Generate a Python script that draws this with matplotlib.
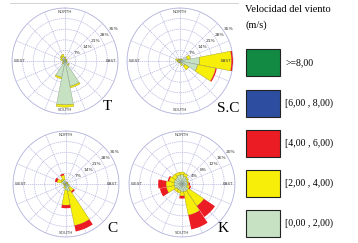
import numpy as np
import matplotlib
matplotlib.use('Agg')
import matplotlib.pyplot as plt
from matplotlib.patches import Rectangle
from matplotlib.lines import Line2D

# 16 directions, clockwise from north
dirs = ['N', 'NNE', 'NE', 'ENE', 'E', 'ESE', 'SE', 'SSE',
        'S', 'SSW', 'SW', 'WSW', 'W', 'WNW', 'NW', 'NNW']

# frequencies (%) per speed class
T_g = [2, 1, 1, 1, 1, 1, 3, 17, 29, 11, 2, 1, 1, 2, 3, 3]
T_y = [0.5, 0.3, 0.3, 0.3, 0.3, 0.3, 0.5, 1, 1.5, 1, 0.3, 0.3, 0.3, 1, 1, 1.5]
T_r = [0] * 16

SC_g = [1, 1, 1.5, 5, 13, 12, 4, 2, 1, 1, 1, 1, 1.5, 2, 1.5, 1]
SC_y = [0.3, 0.3, 0.3, 2, 21, 12, 3, 1, 0.3, 0.3, 0.3, 0.3, 0.5, 1, 0.3, 0.3]
SC_r = [0, 0, 0, 0, 1, 0.8, 0, 0, 0, 0, 0, 0, 0, 0, 0, 0]

C_g = [1, 1, 1, 1, 1, 2, 3, 5, 4, 2, 1, 1, 1.5, 3, 3, 3]
C_y = [0.3, 0.3, 0.3, 0.3, 0.3, 0.3, 3, 23, 10, 1, 0.3, 0.3, 0.3, 3, 1, 3]
C_r = [0, 0, 0, 0, 0, 0, 1, 4, 2, 0, 0, 0, 0, 1.5, 0, 1]

K_g = [3.5, 3, 2.5, 2, 2, 2, 3, 3, 3, 2.5, 2.5, 3, 3, 3, 3, 3.5]
K_y = [1, 1, 0.5, 0.5, 0.5, 1, 7, 9, 1.5, 1, 1, 3, 3, 2, 1.5, 1]
K_r = [0, 0, 0, 0, 0.5, 0.5, 5, 5.5, 1, 0, 0, 2.5, 3, 0.5, 0, 0]

panels = [('T', T_g, T_y, T_r, [7, 14, 21, 28, 35]),
          ('S.C', SC_g, SC_y, SC_r, [7, 14, 21, 28, 35]),
          ('C', C_g, C_y, C_r, [7, 14, 21, 28, 35]),
          ('K', K_g, K_y, K_r, [4, 8, 12, 16, 20])]

classes = ['>=8,00', '[6,00 , 8,00)', '[4,00 , 6,00)', '[2,00 , 4,00)', '[0,00 , 2,00)']
colors = ['#128a44', '#2d4ea0', '#ec1c24', '#f7ef0a', '#c6e2c3']

serif = 'Liberation Serif'

fig = plt.figure(figsize=(3.58, 2.43), dpi=100)

centers = [(65, 61), (180, 61), (66, 184), (182, 184)]
letter_pos = [(107, 107), (228, 108), (112, 228), (223, 228)]
rx, ry = 53, 56

theta = np.deg2rad(np.arange(16) * 22.5)
width = np.deg2rad(22)

for (name, g, y, r, rings), (cx, cy), (lx, ly) in zip(panels, centers, letter_pos):
    ax = fig.add_axes([(cx - rx) / 358, 1 - (cy + ry) / 243, 2 * rx / 358, 2 * ry / 243],
                      projection='polar')
    ax.set_theta_zero_location('N')
    ax.set_theta_direction(-1)
    g = np.array(g); y = np.array(y); r = np.array(r)
    ax.bar(theta, g, width=width, color=colors[4], edgecolor='#8a9a8a', linewidth=0.3, zorder=3)
    ax.bar(theta, y, bottom=g, width=width, color=colors[3], edgecolor='#a09a20', linewidth=0.3, zorder=3)
    ax.bar(theta, r, bottom=g + y, width=width, color=colors[2], linewidth=0, zorder=3)
    rmax = rings[-1]
    ax.set_ylim(0, rmax)
    ax.set_yticks(rings)
    ax.set_yticklabels(['%d%%' % v for v in rings], fontsize=3.2, color='#333333')
    ax.set_rlabel_position(55)
    ax.set_xticks(theta)
    ax.set_xticklabels([])
    ax.grid(True, color='#b8b8e0', linestyle=(0, (2, 1)), linewidth=0.5)
    ax.spines['polar'].set_color('#b8b8e0')
    ax.spines['polar'].set_linewidth(0.6)
    kw = dict(fontsize=3, color='#444444', zorder=5)
    ax.text(0, rmax * 0.97, 'NORTH', ha='center', va='top', **kw)
    ax.text(np.pi, rmax * 0.97, 'SOUTH', ha='center', va='bottom', **kw)
    ax.text(np.pi / 2, rmax * 0.97, 'EAST', ha='right', va='center', **kw)
    ax.text(3 * np.pi / 2, rmax * 0.97, 'WEST', ha='left', va='center', **kw)
    fig.text(lx / 358, 1 - ly / 243, name, family=serif, fontsize=11, ha='center', va='center')

# light frame line on top
fig.add_artist(Line2D([10 / 358, 238 / 358], [1 - 3 / 243, 1 - 3 / 243],
                      color='#cccccc', linewidth=0.6, transform=fig.transFigure))

# legend
fig.text(245 / 358, 1 - 10 / 243, 'Velocidad del viento', family=serif, fontsize=7.5,
         ha='left', va='center')
fig.text(245 / 358, 1 - 25 / 243, '(m/s)', family=serif, fontsize=7.5, ha='left', va='center')
box_top = [49, 90, 130, 170, 210]
for top, col, txt in zip(box_top, colors, classes):
    fig.add_artist(Rectangle((246 / 358, 1 - (top + 27) / 243), 34 / 358, 27 / 243,
                             facecolor=col, edgecolor='#222222', linewidth=0.8,
                             transform=fig.transFigure))
    fig.text(285 / 358, 1 - (top + 13.5) / 243, txt, family=serif, fontsize=7,
             ha='left', va='center')

fig.savefig('out.png', dpi=100)
